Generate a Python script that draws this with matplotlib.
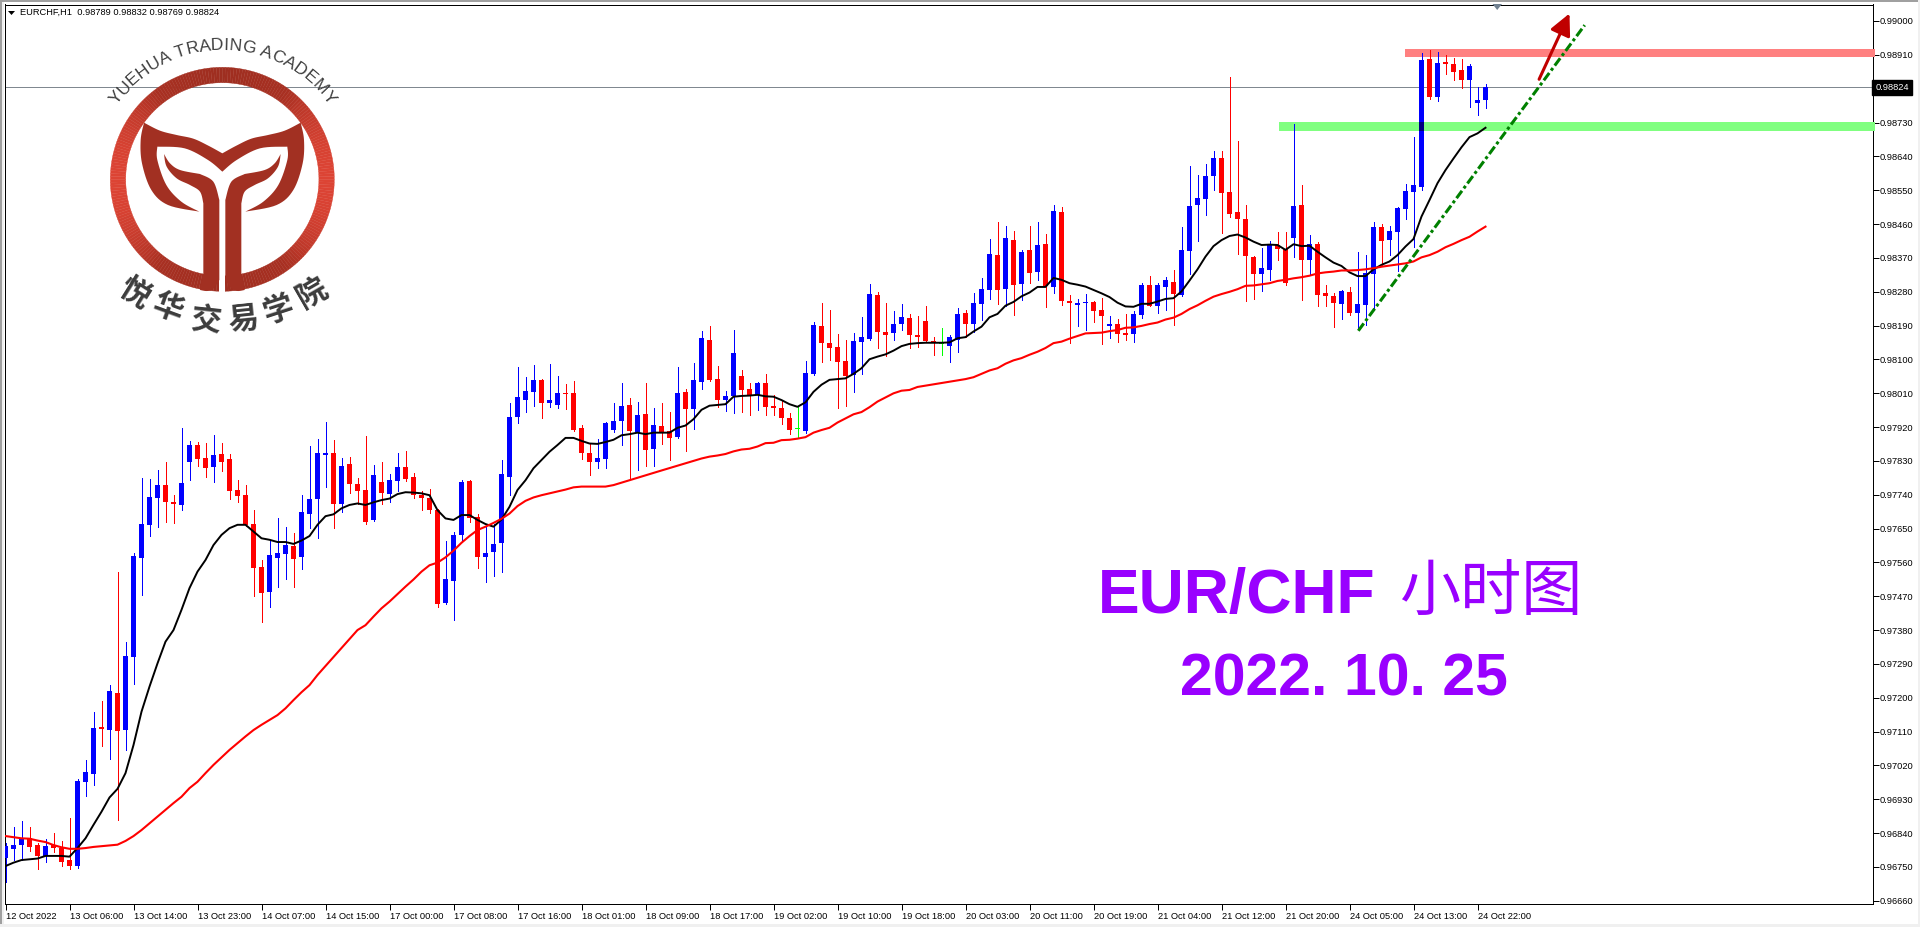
#!/usr/bin/env python
# coding: utf-8

import numpy as np
import matplotlib
matplotlib.use('Agg')
import matplotlib.pyplot as plt
from matplotlib.colors import LinearSegmentedColormap
from matplotlib.font_manager import FontProperties
from matplotlib.patches import FancyArrowPatch, Polygon, Rectangle, Wedge
from matplotlib.textpath import text_to_path

plt.rcParams['font.family'] = ['Liberation Sans', 'DejaVu Sans']

# all prices in points (1e-5), one entry per H1 bar
opens = [
    96766, 96790, 96800, 96818, 96800, 96772, 96800, 96793, 96760, 96744,
    96968, 96990, 97115, 97107, 97206, 97107, 97302, 97567, 97655, 97727,
    97761, 97716, 97708, 97823, 97868, 97834, 97810, 97844, 97831, 97748,
    97735, 97657, 97542, 97476, 97567, 97577, 97599, 97569, 97684, 97724,
    97841, 97846, 97710, 97817, 97764, 97748, 97668, 97769, 97737, 97772,
    97809, 97782, 97734, 97726, 97694, 97446, 97505, 97628, 97772, 97676,
    97569, 97582, 97606, 97782, 97943, 97988, 98009, 98041, 97980, 97975,
    98007, 98007, 97913, 97846, 97822, 97830, 97908, 97932, 97975, 97903,
    97951, 97857, 97919, 97905, 97889, 98010, 97964, 98036, 98148, 98044,
    97988, 97999, 98052, 98018, 98002, 98034, 97972, 97967, 97940, 97910,
    97905, 98058, 98186, 98140, 98130, 98092, 98055, 98143, 98151, 98269,
    98170, 98167, 98191, 98207, 98162, 98199, 98146, 98137, 98133, 98149,
    98221, 98192, 98245, 98282, 98376, 98285, 98416, 98298, 98389, 98330,
    98405, 98290, 98491, 98253, 98242, 98248, 98250, 98229, 98186, 98192,
    98168, 98165, 98216, 98296, 98240, 98290, 98304, 98269, 98386, 98509,
    98525, 98586, 98634, 98544, 98490, 98472, 98370, 98325, 98335, 98402,
    98391, 98421, 98509, 98362, 98405, 98274, 98266, 98245, 98277, 98220,
    98242, 98325, 98450, 98415, 98437, 98498, 98543, 98557, 98899, 98797,
    98891, 98885, 98869, 98842, 98781, 98789,
]
highs = [
    96805, 96849, 96864, 96849, 96805, 96815, 96831, 96811, 96873, 96976,
    97027, 97155, 97185, 97227, 97529, 97342, 97580, 97780, 97777, 97801,
    97823, 97735, 97914, 97879, 97876, 97874, 97895, 97874, 97844, 97775,
    97761, 97695, 97561, 97612, 97673, 97649, 97633, 97735, 97866, 97884,
    97929, 97881, 97833, 97836, 97780, 97892, 97814, 97822, 97790, 97846,
    97852, 97793, 97745, 97750, 97696, 97612, 97636, 97774, 97774, 97684,
    97649, 97657, 97828, 97980, 98076, 98049, 98081, 98043, 98084, 98052,
    98031, 98039, 97921, 97873, 97884, 97929, 97980, 98034, 97994, 97983,
    98034, 97967, 97980, 97956, 98076, 98018, 98087, 98172, 98186, 98079,
    98012, 98175, 98068, 98034, 98036, 98058, 98002, 97985, 97953, 97970,
    98092, 98196, 98247, 98228, 98164, 98148, 98167, 98210, 98298, 98277,
    98247, 98226, 98244, 98218, 98212, 98239, 98157, 98181, 98162, 98234,
    98229, 98274, 98314, 98418, 98464, 98453, 98440, 98389, 98453, 98464,
    98432, 98509, 98504, 98269, 98258, 98272, 98253, 98261, 98213, 98205,
    98218, 98226, 98301, 98320, 98301, 98317, 98336, 98451, 98613, 98589,
    98618, 98653, 98653, 98851, 98680, 98509, 98372, 98394, 98413, 98437,
    98437, 98725, 98562, 98429, 98410, 98295, 98274, 98282, 98290, 98383,
    98375, 98464, 98458, 98453, 98503, 98565, 98690, 98915, 98923, 98917,
    98909, 98901, 98899, 98885, 98824, 98832,
]
lows = [
    96702, 96760, 96760, 96785, 96736, 96756, 96782, 96745, 96736, 96739,
    96931, 96960, 97065, 97030, 96867, 97054, 97230, 97468, 97625, 97649,
    97663, 97660, 97695, 97775, 97812, 97783, 97770, 97799, 97724, 97716,
    97653, 97465, 97396, 97436, 97489, 97510, 97489, 97537, 97647, 97620,
    97756, 97646, 97689, 97740, 97710, 97657, 97666, 97710, 97716, 97745,
    97772, 97726, 97694, 97686, 97435, 97443, 97401, 97612, 97662, 97539,
    97502, 97518, 97529, 97734, 97927, 97956, 97972, 97940, 97969, 97967,
    97964, 97905, 97830, 97788, 97806, 97806, 97903, 97868, 97781, 97801,
    97813, 97813, 97871, 97828, 97887, 97852, 97911, 98018, 98039, 97970,
    97959, 97954, 97956, 97948, 97962, 97948, 97948, 97924, 97897, 97887,
    97900, 98056, 98090, 98095, 97967, 97972, 98010, 98058, 98148, 98127,
    98106, 98148, 98175, 98127, 98130, 98144, 98109, 98109, 98090, 98117,
    98157, 98170, 98202, 98258, 98245, 98240, 98215, 98256, 98301, 98309,
    98237, 98274, 98242, 98141, 98186, 98176, 98197, 98138, 98154, 98144,
    98149, 98144, 98208, 98238, 98221, 98229, 98189, 98267, 98325, 98413,
    98482, 98549, 98434, 98477, 98378, 98253, 98258, 98279, 98309, 98362,
    98295, 98370, 98255, 98322, 98239, 98239, 98183, 98205, 98215, 98180,
    98188, 98228, 98346, 98375, 98333, 98471, 98397, 98549, 98792, 98786,
    98858, 98842, 98822, 98770, 98749, 98769,
]
closes = [
    96798, 96800, 96815, 96796, 96772, 96798, 96793, 96755, 96744, 96971,
    96995, 97113, 97110, 97211, 97105, 97305, 97572, 97657, 97729, 97761,
    97716, 97711, 97767, 97868, 97831, 97807, 97842, 97823, 97745, 97732,
    97655, 97540, 97473, 97575, 97580, 97601, 97564, 97689, 97724, 97847,
    97846, 97710, 97812, 97764, 97745, 97662, 97788, 97740, 97774, 97809,
    97777, 97734, 97726, 97694, 97443, 97510, 97628, 97769, 97673, 97569,
    97580, 97604, 97790, 97943, 97996, 98012, 98041, 97980, 97988, 98007,
    98004, 97908, 97846, 97822, 97833, 97927, 97932, 97972, 97905, 97948,
    97855, 97921, 97900, 97887, 98007, 97964, 98042, 98154, 98042, 97988,
    97999, 98114, 98015, 97999, 98034, 97970, 97967, 97940, 97908, 97910,
    98060, 98188, 98140, 98127, 98090, 98052, 98146, 98156, 98271, 98170,
    98162, 98191, 98210, 98162, 98156, 98146, 98143, 98137, 98157, 98218,
    98192, 98248, 98285, 98378, 98282, 98421, 98296, 98384, 98328, 98402,
    98293, 98493, 98253, 98248, 98248, 98250, 98226, 98213, 98192, 98165,
    98162, 98218, 98296, 98240, 98296, 98309, 98272, 98389, 98507, 98528,
    98586, 98634, 98541, 98485, 98472, 98373, 98325, 98341, 98402, 98391,
    98301, 98506, 98362, 98405, 98269, 98266, 98247, 98279, 98220, 98245,
    98327, 98450, 98413, 98439, 98501, 98546, 98562, 98896, 98797, 98888,
    98885, 98864, 98842, 98880, 98789, 98824,
]

ma_fast = [
    96744, 96753, 96760, 96762, 96764, 96771, 96771, 96771, 96769, 96792,
    96818, 96854, 96889, 96927, 96950, 96992, 97067, 97156, 97223, 97285,
    97343, 97374, 97428, 97486, 97530, 97561, 97601, 97628, 97646, 97655,
    97655, 97637, 97619, 97615, 97609, 97609, 97604, 97613, 97625, 97655,
    97678, 97683, 97699, 97708, 97712, 97708, 97715, 97721, 97725, 97737,
    97742, 97741, 97739, 97734, 97694, 97672, 97668, 97681, 97681, 97668,
    97657, 97650, 97669, 97703, 97748, 97774, 97806, 97828, 97850, 97868,
    97887, 97887, 97879, 97872, 97871, 97876, 97882, 97894, 97897, 97901,
    97897, 97901, 97901, 97901, 97914, 97920, 97937, 97962, 97973, 97975,
    97977, 97997, 97999, 98000, 98002, 97998, 97997, 97988, 97977, 97970,
    97982, 98010, 98029, 98042, 98044, 98046, 98058, 98073, 98097, 98104,
    98110, 98120, 98132, 98138, 98140, 98141, 98141, 98141, 98142, 98153,
    98156, 98171, 98184, 98209, 98218, 98240, 98250, 98265, 98275, 98290,
    98290, 98314, 98309, 98300, 98296, 98291, 98282, 98273, 98263, 98248,
    98238, 98237, 98245, 98245, 98251, 98258, 98260, 98278, 98307, 98337,
    98371, 98399, 98415, 98426, 98430, 98422, 98411, 98402, 98403, 98402,
    98389, 98404, 98399, 98400, 98384, 98369, 98355, 98346, 98329, 98319,
    98319, 98337, 98349, 98358, 98375, 98398, 98418, 98478, 98522, 98567,
    98602, 98633, 98663, 98690, 98700, 98715,
]

# the slow line is hidden behind candles here and there, only read bars are listed
ma_slow_bars = (list(range(0, 40)) + list(range(44, 77)) + [82]
                + list(range(87, 115)) + list(range(120, 186)))
ma_slow = [
    96824, 96821, 96818, 96817, 96812, 96808, 96800, 96794, 96790, 96790,
    96792, 96795, 96797, 96799, 96801, 96811, 96824, 96840, 96858, 96876,
    96894, 96912, 96929, 96952, 96969, 96992, 97014, 97034, 97054, 97072,
    97090, 97107, 97121, 97134, 97147, 97165, 97187, 97208, 97227, 97254,
    97374, 97387, 97410, 97432, 97450, 97470, 97490, 97509, 97530, 97547, 97554,
    97568, 97586, 97607, 97625, 97641, 97650, 97660, 97671, 97685, 97705,
    97719, 97728, 97734, 97739, 97744, 97749, 97755, 97757, 97757, 97757, 97757, 97761,
    97800,
    97832, 97837, 97840, 97844, 97851, 97856, 97858, 97864, 97873, 97874,
    97881, 97882, 97885, 97889, 97901, 97908, 97914, 97928, 97939, 97950,
    97956, 97969, 97984, 97995, 98006, 98013, 98015, 98023,
    98044, 98049, 98058, 98067, 98073, 98085, 98094, 98100, 98109, 98117,
    98127, 98140, 98144, 98152, 98159, 98166, 98167, 98168, 98172, 98175,
    98181, 98182, 98186, 98191, 98195, 98203, 98208, 98218, 98231, 98241,
    98253, 98264, 98271, 98277, 98284, 98293, 98294, 98297, 98300, 98306,
    98309, 98313, 98316, 98320, 98326, 98329, 98331, 98334, 98334, 98335,
    98337, 98340, 98344, 98347, 98350, 98353, 98358, 98369, 98375, 98384,
    98396, 98405, 98415, 98424, 98438, 98451,
]

x_tick_bars = list(range(0, 192, 8))
x_tick_labels = [
    '12 Oct 2022', '13 Oct 06:00', '13 Oct 14:00', '13 Oct 23:00', '14 Oct 07:00',
    '14 Oct 15:00', '17 Oct 00:00', '17 Oct 08:00', '17 Oct 16:00', '18 Oct 01:00',
    '18 Oct 09:00', '18 Oct 17:00', '19 Oct 02:00', '19 Oct 10:00', '19 Oct 18:00',
    '20 Oct 03:00', '20 Oct 11:00', '20 Oct 19:00', '21 Oct 04:00', '21 Oct 12:00',
    '21 Oct 20:00', '24 Oct 05:00', '24 Oct 13:00', '24 Oct 22:00',
]
# 0.98820 sits under the last price box, so it is left out
y_ticks = [0.9666 + 0.0009 * k for k in range(27) if k != 24]

last_price = 0.98824
resistance = (0.98904, 0.98926)
resistance_bars = (174.9, 233.7)
support = (0.98708, 0.98731)
support_bars = (159.2, 233.7)
trend_bars = [169.1, 197.4]
trend_prices = [0.98176, 0.98989]
arrow_from = (191.7, 0.98845)
arrow_to = (195.5, 0.99020)


def to_price(points):
    # readings were taken with 2.67 points per pixel, the axis has 2.66
    return 0.99 - (99000 - np.array(points, dtype=float)) / 1e5 * 0.99636


def smooth(points, steps=8):
    # catmull-rom through the points, for the logo outlines
    pts = np.array([points[0]] + list(points) + [points[-1]], dtype=float)
    out = []
    for k in range(1, len(pts) - 2):
        for t in np.linspace(0, 1, steps, endpoint=False):
            out.append(0.5 * (2 * pts[k] + (pts[k + 1] - pts[k - 1]) * t
                              + (2 * pts[k - 1] - 5 * pts[k] + 4 * pts[k + 1] - pts[k + 2]) * t ** 2
                              + (3 * pts[k] - pts[k - 1] - 3 * pts[k + 1] + pts[k + 2]) * t ** 3))
    out.append(pts[-1])
    return np.array(out)


def draw_candles(axis):
    bars = np.arange(len(opens))
    o, h, l, c = [to_price(v) for v in (opens, highs, lows, closes)]
    colors = np.where(c > o, '#0000FF', np.where(c < o, '#FF0000', '#00FF00'))
    axis.vlines(bars, l, h, colors=colors, lw=0.72, antialiased=False, zorder=3)
    axis.bar(bars, np.maximum(np.abs(c - o), 2.7e-5), bottom=np.minimum(o, c),
             width=5 / 8, color=colors, linewidth=0, zorder=3)
    # the support band multiplies over the big candle it crosses
    axis.bar(177, support[1] - support[0], bottom=support[0], width=5 / 8,
             color='#000080', linewidth=0, zorder=3.5)


def draw_logo(over):
    cmap = LinearSegmentedColormap.from_list(
        'logo', [(0, '#E24636'), (0.22, '#A83022'), (0.5, '#9E2E20'),
                 (0.78, '#A83022'), (1, '#E24636')])
    centre = (222.3, 179.3)

    # ring in small pieces so that the colour runs left to right
    step = 1.5
    for start in np.arange(0, 360, step):
        mid = np.radians(start + step / 2)
        colour = cmap(0.5 + 0.5 * np.cos(mid) * 0.95)
        over.add_patch(Wedge(centre, 112, start, start + step, width=15.4,
                             facecolor=colour, edgecolor=colour, lw=0.25, zorder=6))
    # gap at the foot of the ring
    over.add_patch(Rectangle((219.4, 270), 6, 25, facecolor='white', edgecolor='none', zorder=6.5))

    # tulip head, left half then mirrored
    left = np.vstack([
        smooth([(667, 460), (625, 437), (580, 416), (530, 405), (480, 392), (432, 368)]),
        smooth([(432, 368), (422, 420), (426, 490), (454, 570), (504, 615), (598, 635)]),
        smooth([(598, 635), (544, 605), (499, 555), (472, 480), (472, 440)]),
        smooth([(472, 440), (554, 445), (624, 480), (667, 515)]),
    ])
    right = np.column_stack([1334 - left[::-1, 0], left[::-1, 1]])
    over.add_patch(Polygon(np.vstack([left, right]) / 3, closed=True,
                           facecolor='#A23022', edgecolor='none', zorder=7))

    # leaf and stem
    stem = np.vstack([
        smooth([(492, 462), (510, 490), (540, 510), (600, 522)]),
        smooth([(600, 522), (640, 545), (658, 600)]),
        [(658, 840)],
        smooth([(658, 840), (640, 865), (622, 873), (600, 870)]),
        [(610, 822), (610, 610)],
        smooth([(610, 610), (600, 575), (570, 555), (530, 535), (500, 500), (492, 462)]),
    ])
    for pts in (stem, np.column_stack([1334 - stem[:, 0], stem[:, 1]])):
        over.add_patch(Polygon(pts / 3, closed=True, facecolor='#A23022', edgecolor='none', zorder=7))

    # English name on the upper arc
    name = 'YUEHUA TRADING ACADEMY'
    prop = FontProperties(family='Liberation Sans', size=12.6)
    widths = [text_to_path.get_text_width_height_descent(ch, prop, False)[0] for ch in name]
    widths = np.array(widths, dtype=float)
    centres = (np.cumsum(widths) - widths / 2) / widths.sum()
    for ch, frac in zip(name, centres):
        theta = np.radians(-55 + 110 * frac)
        over.text(centre[0] + 134 * np.sin(theta), centre[1] - 134 * np.cos(theta), ch,
                  fontproperties=prop, color='#404040', rotation=-np.degrees(theta),
                  rotation_mode='anchor', ha='center', va='center', zorder=8)

    # Chinese name on the lower arc
    name_cn = ['悦', '华', '交', '易', '学', '院']
    cn_x = [135, 168, 206, 243, 278, 312]
    cn_y = [293, 308, 321, 320, 310, 293]
    cn_rot = [32, 20, 6, -6, -18, -30]
    for ch, px, py, rot in zip(name_cn, cn_x, cn_y, cn_rot):
        over.text(px, py, ch, family=['Noto Sans CJK SC', 'DejaVu Sans'], fontweight='bold',
                  fontsize=22, color='#3C3C3C', rotation=-rot, rotation_mode='anchor',
                  ha='center', va='center', zorder=8)


def main():
    fig = plt.figure(figsize=(19.2, 9.27), dpi=100, facecolor='white')
    axis = fig.add_axes([4.5 / 1920, 23 / 927, 1868 / 1920, 899.5 / 927])

    axis.fill_between(resistance_bars, resistance[0], resistance[1], color='#FF8080',
                      lw=0, clip_on=False, zorder=2.6)
    axis.fill_between(support_bars, support[0], support[1], color='#80FF80',
                      lw=0, clip_on=False, zorder=2.6)
    axis.axhline(last_price, color='#808890', lw=0.72, zorder=2)

    draw_candles(axis)
    axis.plot(np.arange(len(ma_fast)), to_price(ma_fast), color='black', lw=1.4, zorder=4)
    axis.plot(ma_slow_bars, to_price(ma_slow), color='#FF0000', lw=1.5, zorder=4)

    axis.plot(trend_bars, trend_prices, color='#008000', lw=2.2,
              ls=(0, (3, 1, 1, 1)), dash_capstyle='butt', zorder=5)
    axis.add_patch(FancyArrowPatch(arrow_from, arrow_to, mutation_scale=20, color='#C00000',
                                   arrowstyle='-|>,head_length=0.65,head_width=0.32', lw=2.2,
                                   shrinkA=0, shrinkB=0, clip_on=False, zorder=5))

    axis.set_xlim(-0.125, 233.375)
    axis.set_ylim(0.99 - 883 / 37594, 0.99 + 16.5 / 37594)
    axis.set_xticks(x_tick_bars)
    axis.set_xticklabels(x_tick_labels, ha='left', fontsize=6.7)
    axis.yaxis.tick_right()
    axis.set_yticks(y_ticks)
    axis.set_yticklabels(['%.5f' % v for v in y_ticks], fontsize=6.7)
    axis.tick_params(axis='x', length=4, width=0.72, pad=1.5)
    axis.tick_params(axis='y', length=4, width=0.72, pad=1)
    for spine in axis.spines.values():
        spine.set_linewidth(0.72)

    axis.text(1.0016, last_price, '%.5f' % last_price, transform=axis.get_yaxis_transform(),
              fontsize=6.7, color='white', va='center', ha='left', zorder=10,
              bbox=dict(facecolor='black', edgecolor='black', pad=2.2))

    # pixel layer for the window frame, header, logo and caption
    over = fig.add_axes([0, 0, 1, 1], zorder=5)
    over.patch.set_alpha(0)
    over.set_axis_off()

    draw_logo(over)

    for rect in [(0, 0, 1920, 2), (0, 0, 2, 927)]:
        over.add_patch(Rectangle(rect[:2], rect[2], rect[3], facecolor='#A0A0A0', edgecolor='none'))
    for rect in [(2, 2, 2, 925), (0, 924, 1920, 3), (1918, 0, 2, 927)]:
        over.add_patch(Rectangle(rect[:2], rect[2], rect[3], facecolor='#F0F0F0', edgecolor='none'))
    over.add_patch(Polygon([(8, 11), (15, 11), (11.5, 15)], facecolor='black', edgecolor='none'))
    over.add_patch(Polygon([(1492.5, 4), (1502, 4), (1497.2, 10)], facecolor='#708090', edgecolor='none'))

    over.text(20, 12.5, 'EURCHF,H1  0.98789 0.98832 0.98769 0.98824', fontsize=6.7,
              color='black', va='center', ha='left')
    over.text(1098, 613, 'EUR/CHF', fontsize=45, fontweight='bold', color='#9900FF',
              family='Liberation Sans', va='baseline', ha='left')
    over.text(1491, 594, '小时图', fontsize=44, color='#9900FF',
              family=['Noto Sans CJK SC', 'DejaVu Sans'], va='center', ha='center')
    over.text(1180, 696, '2022. 10. 25', fontsize=42.5, fontweight='bold', color='#9900FF',
              family='Liberation Sans', va='baseline', ha='left')

    over.set_xlim(0, 1920)
    over.set_ylim(927, 0)

    fig.savefig('out.png', dpi=100, facecolor='white')


if __name__ == '__main__':
    main()
